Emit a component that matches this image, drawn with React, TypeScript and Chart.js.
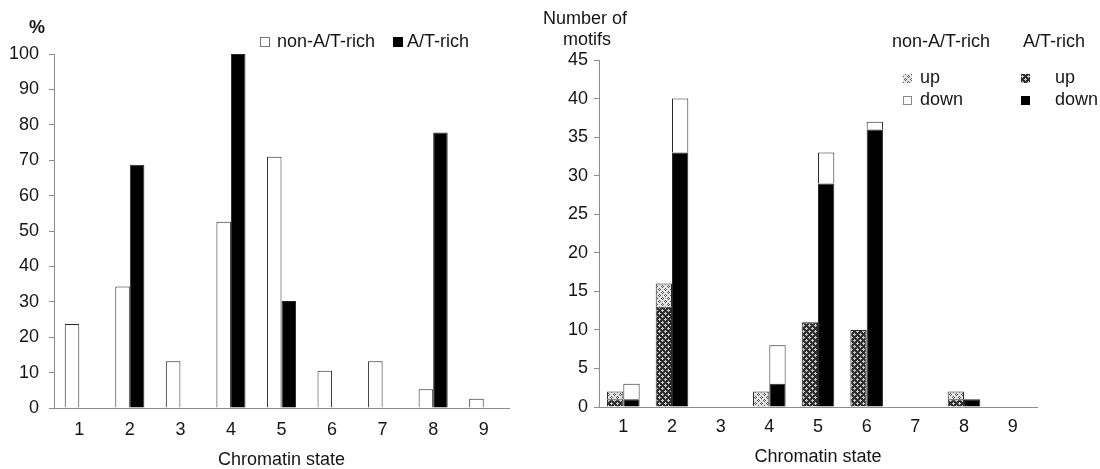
import React, { useEffect, useRef } from 'react';
import { Chart, registerables } from 'chart.js';

Chart.register(...registerables);

// ---------- data ----------
const STATES = ['1', '2', '3', '4', '5', '6', '7', '8', '9'];

// Left chart: percentage
const PCT_NON_AT = [23.7, 34.3, 13.2, 52.6, 71.0, 10.5, 13.2, 5.3, 2.6];
const PCT_AT = [0, 68.7, 0, 100, 30.2, 0, 0, 77.8, 0];
const PCT_LABELS = ['non-A/T-rich', 'A/T-rich'];

// Right chart: number of motifs
const MOTIF_AT_UP = [1, 13, 0, 0, 11, 10, 0, 1, 0];
const MOTIF_NON_AT_UP = [1, 3, 0, 2, 0, 0, 0, 1, 0];
const MOTIF_AT_DOWN = [1, 33, 0, 3, 29, 36, 0, 1, 0];
const MOTIF_NON_AT_DOWN = [2, 7, 0, 5, 4, 1, 0, 0, 0];
const GROUPS = ['non-A/T-rich', 'A/T-rich'];
const DIRECTIONS = ['up', 'down'];

// ---------- style ----------
const FAMILY = '"Liberation Sans", Arial, Helvetica, sans-serif';
const TXT = '#151515';
const AXIS = '#8c8c8c';
const EDGE = '#2a2a2a';
const FS = 18;
const RIGHT_LEFT = 520; // page x of the right canvas
const RIGHT_W = 580;

const nz = (a: number[]) => a.map((v) => (v === 0 ? null : v));

function makePattern(bg: string, fg: string, pts: number[][]) {
  const c = document.createElement('canvas');
  c.width = 6;
  c.height = 6;
  const g = c.getContext('2d')!;
  g.fillStyle = bg;
  g.fillRect(0, 0, 6, 6);
  g.fillStyle = fg;
  pts.forEach(([x, y]) => g.fillRect(x, y, 1, 1));
  return g.createPattern(c, 'repeat') as CanvasPattern;
}

function leftConfig(): any {
  const decor = {
    id: 'leftDecor',
    afterDraw(chart: any) {
      const ctx = chart.ctx as CanvasRenderingContext2D;
      ctx.save();
      ctx.fillStyle = TXT;
      ctx.font = `bold ${FS}px ${FAMILY}`;
      ctx.textAlign = 'center';
      ctx.textBaseline = 'middle';
      ctx.fillText('%', 37, 28);
      // legend
      ctx.font = `${FS}px ${FAMILY}`;
      ctx.textAlign = 'left';
      const xs = [[260, 277], [393, 407]];
      chart.data.datasets.forEach((ds: any, i: number) => {
        const [bx, tx] = xs[i];
        ctx.fillStyle = ds.backgroundColor;
        ctx.fillRect(bx, 37, 10, 10);
        ctx.strokeStyle = i === 0 ? '#777' : '#000';
        ctx.lineWidth = 1;
        ctx.strokeRect(bx + 0.5, 37.5, 9, 9);
        ctx.fillStyle = TXT;
        ctx.fillText(ds.label, tx, 42);
      });
      ctx.restore();
    },
  };
  return {
    type: 'bar',
    data: {
      labels: STATES,
      datasets: [
        { label: PCT_LABELS[0], data: nz(PCT_NON_AT), backgroundColor: '#ffffff', borderColor: EDGE, borderWidth: 1, borderSkipped: 'bottom' },
        { label: PCT_LABELS[1], data: nz(PCT_AT), backgroundColor: '#000000', borderColor: EDGE, borderWidth: 1, borderSkipped: 'bottom' },
      ],
    },
    options: {
      responsive: false,
      animation: false,
      layout: { padding: { left: 0, right: 41, top: 54, bottom: 0 } },
      datasets: { bar: { categoryPercentage: 0.575, barPercentage: 1 } },
      plugins: { legend: { display: false }, tooltip: { enabled: false } },
      scales: {
        x: {
          grid: { display: false, drawTicks: false },
          border: { display: true, color: AXIS, width: 1 },
          ticks: { font: { size: FS, family: FAMILY }, color: TXT, padding: 11 },
          title: { display: true, text: 'Chromatin state', color: TXT, font: { size: FS, family: FAMILY, lineHeight: 1 }, padding: 0 },
          afterFit: (s: any) => { s.height = 61; },
        },
        y: {
          min: 0,
          max: 100,
          ticks: { stepSize: 10, font: { size: FS, family: FAMILY }, color: TXT, padding: 10 },
          grid: { display: true, drawOnChartArea: false, drawTicks: true, tickLength: 5, color: AXIS },
          border: { display: true, color: AXIS, width: 1 },
          afterFit: (s: any) => { s.width = 54; },
        },
      },
    },
    plugins: [decor],
  };
}

function rightConfig(): any {
  const off = 550 - RIGHT_LEFT;
  const darkPat = makePattern('#2e2e2e', '#c8c8c8', [
    [1, 0], [0, 1], [1, 1], [2, 1], [1, 2],
    [4, 3], [3, 4], [4, 4], [5, 4], [4, 5],
  ]);
  const lightPat = makePattern('#e4e4e4', '#555555', [
    [1, 0], [0, 1], [2, 1], [1, 2],
    [4, 3], [3, 4], [5, 4], [4, 5],
  ]);
  const decor = {
    id: 'rightDecor',
    afterDraw(chart: any) {
      const ctx = chart.ctx as CanvasRenderingContext2D;
      ctx.save();
      ctx.fillStyle = TXT;
      ctx.font = `${FS}px ${FAMILY}`;
      ctx.textAlign = 'center';
      ctx.textBaseline = 'middle';
      ctx.fillText('Number of', off + 35, 19);
      ctx.fillText('motifs', off + 37, 40);
      // legend headers
      ctx.textAlign = 'left';
      ctx.fillText(GROUPS[0], off + 342, 42);
      ctx.fillText(GROUPS[1], off + 473, 42);
      const ds = chart.data.datasets;
      const colX = [[off + 353, off + 370], [off + 471, off + 505]];
      const rowY = [78, 100];
      GROUPS.forEach((g, gi) => {
        DIRECTIONS.forEach((d, di) => {
          const item = ds.find((x: any) => x.group === g && x.dir === d);
          const [bx, tx] = colX[gi];
          const y = rowY[di];
          ctx.fillStyle = item.backgroundColor;
          ctx.fillRect(bx, y - 4, 9, 9);
          if (item.backgroundColor === '#ffffff') {
            ctx.strokeStyle = '#888';
            ctx.lineWidth = 1;
            ctx.strokeRect(bx + 0.5, y - 3.5, 8, 8);
          }
          ctx.fillStyle = TXT;
          ctx.fillText(d, tx, y);
        });
      });
      ctx.restore();
    },
  };
  const common = { borderColor: EDGE, borderWidth: 1, borderSkipped: 'bottom' };
  return {
    type: 'bar',
    data: {
      labels: STATES,
      datasets: [
        { label: 'A/T-rich up', group: GROUPS[1], dir: 'up', stack: 'up', data: nz(MOTIF_AT_UP), backgroundColor: darkPat, ...common },
        { label: 'non-A/T-rich up', group: GROUPS[0], dir: 'up', stack: 'up', data: nz(MOTIF_NON_AT_UP), backgroundColor: lightPat, ...common },
        { label: 'A/T-rich down', group: GROUPS[1], dir: 'down', stack: 'down', data: nz(MOTIF_AT_DOWN), backgroundColor: '#000000', ...common },
        { label: 'non-A/T-rich down', group: GROUPS[0], dir: 'down', stack: 'down', data: nz(MOTIF_NON_AT_DOWN), backgroundColor: '#ffffff', ...common },
      ],
    },
    options: {
      responsive: false,
      animation: false,
      layout: { padding: { left: 0, right: 63, top: 60, bottom: 0 } },
      datasets: { bar: { categoryPercentage: 0.67, barPercentage: 1 } },
      plugins: { legend: { display: false }, tooltip: { enabled: false } },
      scales: {
        x: {
          stacked: true,
          grid: { display: false, drawTicks: false },
          border: { display: true, color: AXIS, width: 1 },
          ticks: { font: { size: FS, family: FAMILY }, color: TXT, padding: 9 },
          title: { display: true, text: 'Chromatin state', color: TXT, font: { size: FS, family: FAMILY, lineHeight: 1.2 }, padding: { top: 0, bottom: 1 } },
          afterFit: (s: any) => { s.height = 62; },
        },
        y: {
          stacked: true,
          min: 0,
          max: 45,
          ticks: { stepSize: 5, font: { size: FS, family: FAMILY }, color: TXT, padding: 6 },
          grid: { display: true, drawOnChartArea: false, drawTicks: true, tickLength: 5, color: AXIS },
          border: { display: true, color: AXIS, width: 1 },
          afterFit: (s: any) => { s.width = 49 + off; },
        },
      },
    },
    plugins: [decor],
  };
}

function ChartCanvas({ make, left, width }: { make: () => any; left: number; width: number }) {
  const ref = useRef<HTMLCanvasElement>(null);
  useEffect(() => {
    const chart = new Chart(ref.current!, make());
    return () => chart.destroy();
  }, []);
  return (
    <canvas
      ref={ref}
      width={width}
      height={469}
      style={{ position: 'absolute', left, top: 0, width, height: 469 }}
    />
  );
}

export default function App() {
  return (
    <div style={{ position: 'absolute', left: 0, top: 0, width: 1100, height: 469, background: '#ffffff', overflow: 'hidden' }}>
      <ChartCanvas make={leftConfig} left={0} width={550} />
      <ChartCanvas make={rightConfig} left={RIGHT_LEFT} width={RIGHT_W} />
    </div>
  );
}
